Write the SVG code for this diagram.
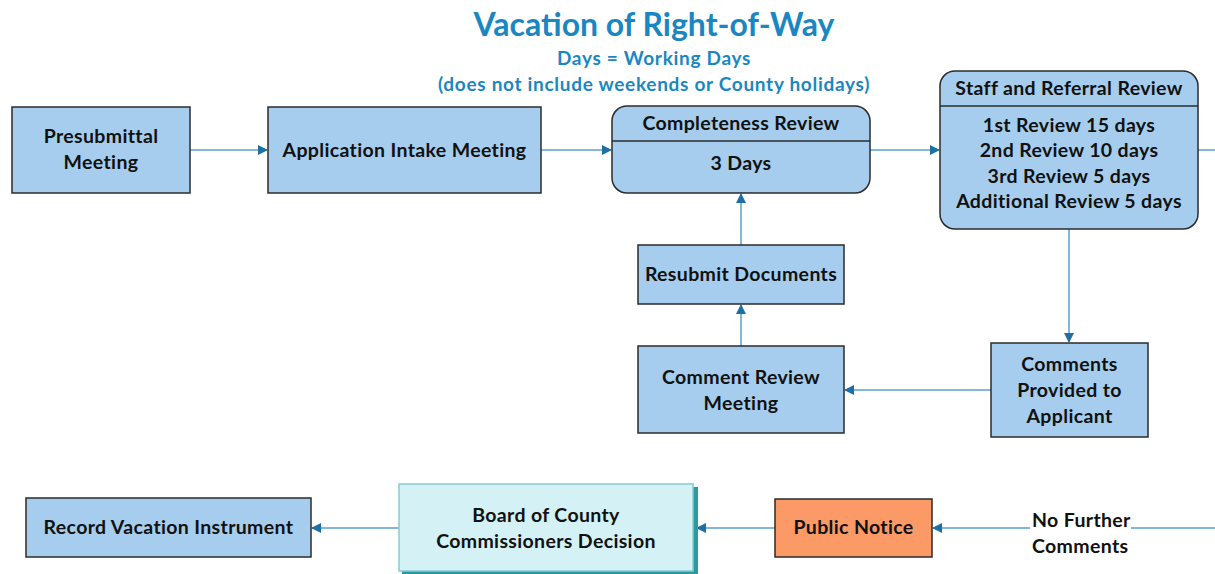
<svg xmlns="http://www.w3.org/2000/svg" width="1215" height="574" viewBox="0 0 1215 574">
<defs>
<marker id="arr" markerWidth="10" markerHeight="10" refX="9" refY="5" orient="auto" markerUnits="userSpaceOnUse">
<path d="M0,0 L10,5 L0,10 Z" fill="#1d6fa5"/>
</marker>
</defs>
<style>
.box{fill:#a6cded;stroke:#2b2b2b;stroke-width:1.5}
.t{font-family:Lato,"Open Sans","Noto Sans",sans-serif;font-weight:bold;font-size:19.5px;letter-spacing:0.35px;fill:#111;text-anchor:middle}
.title{font-family:Lato,"Open Sans","Noto Sans",sans-serif;font-weight:bold;fill:#1a87c2;text-anchor:middle}
.sub{font-size:19px;letter-spacing:0.7px}
.c{fill:none;stroke:#5a9fcc;stroke-width:1.5}
</style>
<rect width="1215" height="574" fill="#fff"/>
<g id="title">
<text class="title" x="654" y="36" font-size="32">Vacation of Right-of-Way</text>
<text class="title sub" x="654" y="65">Days = Working Days</text>
<text class="title sub" x="654" y="91">(does not include weekends or County holidays)</text>
</g>
<g id="connectors">
<line class="c" x1="190" y1="150" x2="267" y2="150" marker-end="url(#arr)"/>
<line class="c" x1="541" y1="150" x2="611" y2="150" marker-end="url(#arr)"/>
<line class="c" x1="870" y1="150" x2="939" y2="150" marker-end="url(#arr)"/>
<line class="c" x1="1198" y1="150" x2="1215" y2="150"/>
<line class="c" x1="1069" y1="229" x2="1069" y2="342" marker-end="url(#arr)"/>
<line class="c" x1="991" y1="390" x2="845" y2="390" marker-end="url(#arr)"/>
<line class="c" x1="741" y1="346" x2="741" y2="305" marker-end="url(#arr)"/>
<line class="c" x1="741" y1="245" x2="741" y2="194" marker-end="url(#arr)"/>
<line class="c" x1="1215" y1="528" x2="1131" y2="528"/>
<line class="c" x1="1030" y1="528" x2="933" y2="528" marker-end="url(#arr)"/>
<line class="c" x1="775" y1="528" x2="697" y2="528" marker-end="url(#arr)"/>
<line class="c" x1="399" y1="528" x2="312" y2="528" marker-end="url(#arr)"/>
<text class="t" x="1032" y="527" style="text-anchor:start">No Further</text>
<text class="t" x="1032" y="553" style="text-anchor:start">Comments</text>
</g>
<g id="presubmittal">
<rect class="box" x="12" y="107" width="178" height="86"/>
<text class="t" x="101" y="143">Presubmittal</text>
<text class="t" x="101" y="169">Meeting</text>
</g>
<g id="intake">
<rect class="box" x="268" y="107" width="273" height="86"/>
<text class="t" x="404.5" y="157">Application Intake Meeting</text>
</g>
<g id="completeness">
<rect class="box" x="612" y="106" width="258" height="87" rx="15"/>
<line x1="612" y1="141" x2="870" y2="141" stroke="#2b2b2b" stroke-width="1.5"/>
<text class="t" x="741" y="130">Completeness Review</text>
<text class="t" x="741" y="170">3 Days</text>
</g>
<g id="staff">
<rect class="box" x="940" y="71" width="258" height="158" rx="15"/>
<line x1="940" y1="106" x2="1198" y2="106" stroke="#2b2b2b" stroke-width="1.5"/>
<text class="t" x="1069" y="95">Staff and Referral Review</text>
<text class="t" x="1069" y="132">1st Review 15 days</text>
<text class="t" x="1069" y="157">2nd Review 10 days</text>
<text class="t" x="1069" y="183">3rd Review 5 days</text>
<text class="t" x="1069" y="208">Additional Review 5 days</text>
</g>
<g id="resubmit">
<rect class="box" x="638" y="245" width="206" height="59"/>
<text class="t" x="741" y="281">Resubmit Documents</text>
</g>
<g id="commentreview">
<rect class="box" x="638" y="346" width="206" height="87"/>
<text class="t" x="741" y="384">Comment Review</text>
<text class="t" x="741" y="410">Meeting</text>
</g>
<g id="commentsprovided">
<rect class="box" x="991" y="343" width="157" height="94"/>
<text class="t" x="1069.5" y="371">Comments</text>
<text class="t" x="1069.5" y="397">Provided to</text>
<text class="t" x="1069.5" y="423">Applicant</text>
</g>
<g id="record">
<rect class="box" x="26" y="498" width="285" height="59"/>
<text class="t" x="168.5" y="534">Record Vacation Instrument</text>
</g>
<g id="board">
<rect x="402" y="487" width="296" height="88" fill="#2a9a9e"/>
<rect x="399" y="484" width="294" height="87" fill="#d4f2f5" stroke="#86cbd0" stroke-width="1.5"/>
<text class="t" x="546" y="522">Board of County</text>
<text class="t" x="546" y="548">Commissioners Decision</text>
</g>
<g id="publicnotice">
<rect x="775" y="499" width="157" height="58" fill="#fb9a66" stroke="#2b2b2b" stroke-width="1.5"/>
<text class="t" x="853.5" y="534">Public Notice</text>
</g>
</svg>
